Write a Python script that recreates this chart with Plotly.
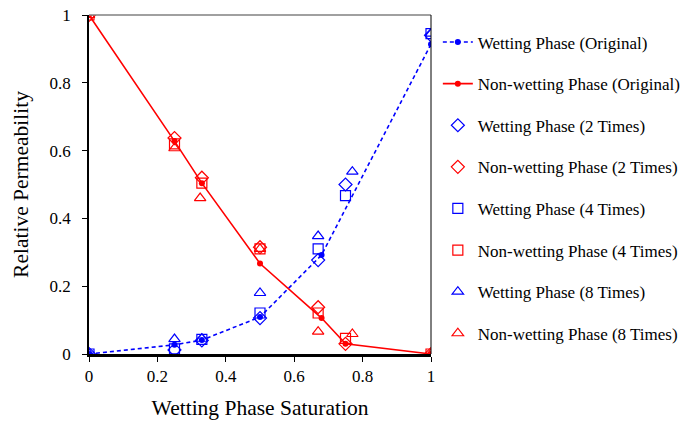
import plotly.graph_objects as go

sw_orig = [0, 0.25, 0.33, 0.5, 0.68, 1.0]
krw_orig = [0, 0.027, 0.041, 0.109, 0.292, 0.914]
sw_orig_nw = [0, 0.25, 0.33, 0.5, 0.68, 0.75, 1.0]
krnw_orig = [1.0, 0.628, 0.504, 0.267, 0.106, 0.03, 0]

sw_2x = [0, 0.25, 0.33, 0.5, 0.67, 0.75, 1.0]
krw_2x = [0, 0.012, 0.04, 0.106, 0.277, 0.5, 0.94]
krnw_2x = [1.0, 0.637, 0.52, 0.315, 0.138, 0.03, 0]

sw_4x = [0, 0.25, 0.33, 0.5, 0.67, 0.75, 1.0]
krw_4x = [0, 0.015, 0.043, 0.121, 0.31, 0.467, 0.945]
krnw_4x = [1.0, 0.62, 0.504, 0.31, 0.121, 0.046, 0]

sw_8x_w = [0, 0.25, 0.33, 0.5, 0.67, 0.77, 1.0]
krw_8x = [0, 0.044, 0.045, 0.18, 0.348, 0.538, 0.945]
sw_8x_nw = [0, 0.25, 0.325, 0.5, 0.67, 0.77, 1.0]
krnw_8x = [1.0, 0.607, 0.46, 0.31, 0.066, 0.059, 0]

x_ticks = [0, 0.2, 0.4, 0.6, 0.8, 1]
x_tick_labels = ["0", "0.2", "0.4", "0.6", "0.8", "1"]
y_ticks = [0, 0.2, 0.4, 0.6, 0.8, 1]
y_tick_labels = ["0", "0.2", "0.4", "0.6", "0.8", "1"]

BLUE = "#0000FF"
RED = "#FF0000"
FONT = "Liberation Serif, Times New Roman, serif"

fig = go.Figure()

def open_marker(symbol, color, size):
    return dict(symbol=symbol, size=size, color=color,
                line=dict(color=color, width=1.2))

fig.add_trace(go.Scatter(x=sw_orig, y=krw_orig, mode="lines+markers",
                         name="Wetting Phase (Original)", legendgroup="a",
                         line=dict(color=BLUE, width=1.6, dash="4px,3px"),
                         marker=dict(symbol="circle", size=6, color=BLUE)))
fig.add_trace(go.Scatter(x=sw_orig_nw, y=krnw_orig, mode="lines+markers",
                         name="Non-wetting Phase (Original)", legendgroup="b",
                         line=dict(color=RED, width=1.6),
                         marker=dict(symbol="circle", size=6, color=RED)))
fig.add_trace(go.Scatter(x=sw_2x, y=krw_2x, mode="markers",
                         name="Wetting Phase (2 Times)", legendgroup="c",
                         marker=open_marker("diamond-open", BLUE, 10)))
fig.add_trace(go.Scatter(x=sw_2x, y=krnw_2x, mode="markers",
                         name="Non-wetting Phase (2 Times)", legendgroup="d",
                         marker=open_marker("diamond-open", RED, 10)))
fig.add_trace(go.Scatter(x=sw_4x, y=krw_4x, mode="markers",
                         name="Wetting Phase (4 Times)", legendgroup="e",
                         marker=open_marker("square-open", BLUE, 10)))
fig.add_trace(go.Scatter(x=sw_4x, y=krnw_4x, mode="markers",
                         name="Non-wetting Phase (4 Times)", legendgroup="f",
                         marker=open_marker("square-open", RED, 10)))
fig.add_trace(go.Scatter(x=sw_8x_w, y=krw_8x, mode="markers",
                         name="Wetting Phase (8 Times)", legendgroup="g",
                         marker=open_marker("triangle-up-open", BLUE, 10)))
fig.add_trace(go.Scatter(x=sw_8x_nw, y=krnw_8x, mode="markers",
                         name="Non-wetting Phase (8 Times)", legendgroup="h",
                         marker=open_marker("triangle-up-open", RED, 10)))

fig.update_layout(
    width=691, height=415,
    margin=dict(l=81, r=268, t=7, b=69, autoexpand=False),
    paper_bgcolor="white", plot_bgcolor="white",
    font=dict(family=FONT, size=17, color="black"),
    legend=dict(x=1.02, y=0.972, xanchor="left", yanchor="top",
                font=dict(family=FONT, size=17, color="black"),
                tracegroupgap=16.5, traceorder="grouped", maxheight=410,
                bgcolor="rgba(0,0,0,0)"),
    xaxis=dict(range=[0, 1], tickvals=x_ticks, ticktext=x_tick_labels,
               showgrid=False, zeroline=False, showline=True,
               linecolor="black", linewidth=2.5, ticks="outside",
               ticklen=5, tickcolor="black", automargin=False,
               ticklabeloverflow="allow",
               title=dict(text="Wetting Phase Saturation",
                          font=dict(family=FONT, size=21.5), standoff=15)),
    yaxis=dict(range=[0, 1], tickvals=y_ticks, ticktext=y_tick_labels,
               showgrid=False, zeroline=False, showline=True,
               linecolor="black", linewidth=1.5, ticks="outside",
               ticklen=5, tickcolor="black", automargin=False,
               ticklabelstandoff=8, ticklabeloverflow="allow",
               title=dict(text="Relative Permeability",
                          font=dict(family=FONT, size=21.5), standoff=15)),
    shapes=[
        dict(type="line", xref="paper", yref="paper", x0=0, x1=1, y0=1, y1=1,
             line=dict(color="#808080", width=1.5)),
        dict(type="line", xref="paper", yref="paper", x0=1, x1=1, y0=0, y1=1,
             line=dict(color="black", width=1)),
    ],
)

fig.write_html("out.html")
